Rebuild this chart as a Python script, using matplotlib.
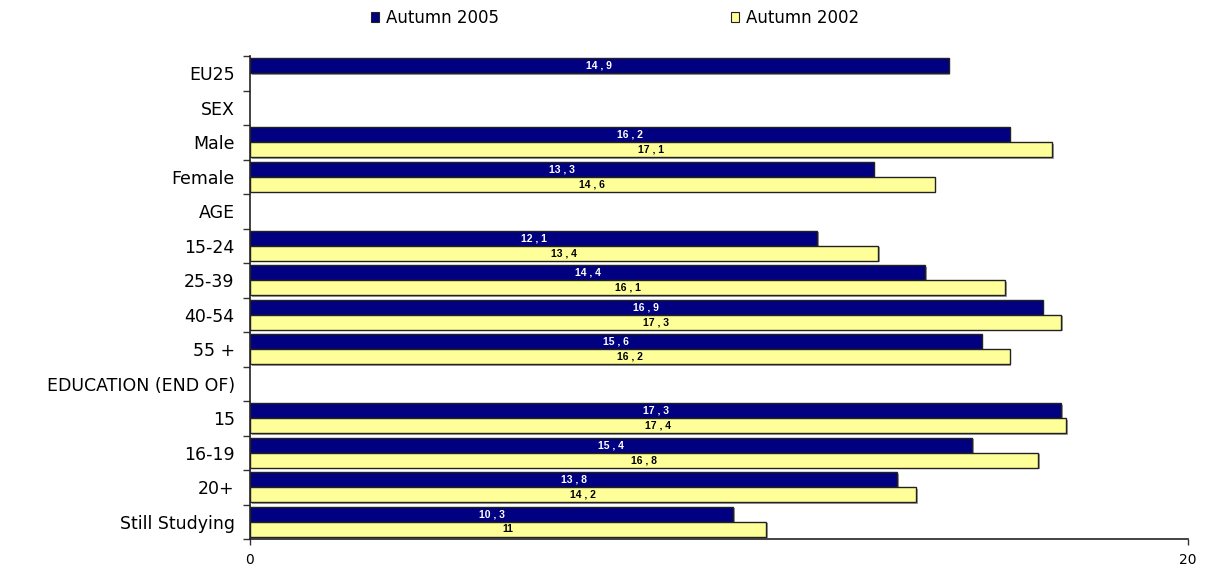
import numpy as np
import matplotlib
matplotlib.use("Agg")
import matplotlib.pyplot as plt
from matplotlib import patheffects as pe
from matplotlib.patches import Patch

categories = ["EU25", "SEX", "Male", "Female", "AGE", "15-24", "25-39", "40-54",
              "55 +", "EDUCATION (END OF)", "15", "16-19", "20+", "Still Studying"]
autumn_2005 = [14.9, None, 16.2, 13.3, None, 12.1, 14.4, 16.9, 15.6, None, 17.3, 15.4, 13.8, 10.3]
autumn_2002 = [None, None, 17.1, 14.6, None, 13.4, 16.1, 17.3, 16.2, None, 17.4, 16.8, 14.2, 11]
series_names = ["Autumn 2005", "Autumn 2002"]
xticks = [0, 20]

navy = "#000080"
yellow = "#FFFF99"
edge = "#222222"

fig = plt.figure(figsize=(12.08, 5.66), dpi=100)
ax = fig.add_axes([250 / 1208, 27 / 566, 938 / 1208, 483 / 566])

y = np.arange(len(categories))
h = 0.435
shadow = [pe.SimplePatchShadow(offset=(1.2, -1.2), shadow_rgbFace="#999999", alpha=0.9), pe.Normal()]


def fmt(v):
    s = f"{v:g}"
    return s.replace(".", " , ")


for vals, off, color, tcolor in [(autumn_2005, -h / 2, navy, "white"),
                                 (autumn_2002, h / 2, yellow, "black")]:
    for yi, v in zip(y, vals):
        if v is None:
            continue
        b = ax.barh(yi + off, v, height=h, color=color, edgecolor=edge, linewidth=1.0)
        for p in b.patches:
            p.set_path_effects(shadow)
        ax.text(v / 2, yi + off, fmt(v), ha="center", va="center", color=tcolor,
                fontsize=7.5, fontweight="bold", family="Liberation Sans")

ax.set_xlim(0, 20)
ax.set_ylim(len(categories) - 0.5, -0.5)
ax.set_xticks(xticks)
ax.set_xticklabels([str(t) for t in xticks], fontsize=10, family="DejaVu Sans")
ax.set_yticks(y)
ax.set_yticklabels(categories, fontsize=12.5, family="DejaVu Sans")
ax.set_yticks(np.arange(len(categories) + 1) - 0.5, minor=True)
ax.tick_params(axis="y", which="major", length=0, pad=11)
ax.tick_params(axis="y", which="minor", length=5, width=1, color="#333333")
ax.tick_params(axis="x", which="major", length=4, width=1, pad=6, color="#333333")
for s in ["top", "right"]:
    ax.spines[s].set_visible(False)
for s in ["left", "bottom"]:
    ax.spines[s].set_color("#222222")
    ax.spines[s].set_linewidth(1.2)

handles = [Patch(facecolor=navy, edgecolor=edge, linewidth=0.8),
           Patch(facecolor=yellow, edgecolor=edge, linewidth=0.8)]
fig.legend(handles, series_names, loc="center", bbox_to_anchor=(615 / 1208, 1 - 18 / 566),
           ncol=2, frameon=False, fontsize=12, handlelength=0.5, handleheight=0.5,
           handletextpad=0.4, columnspacing=13.9)

fig.savefig("out.png", dpi=100)
